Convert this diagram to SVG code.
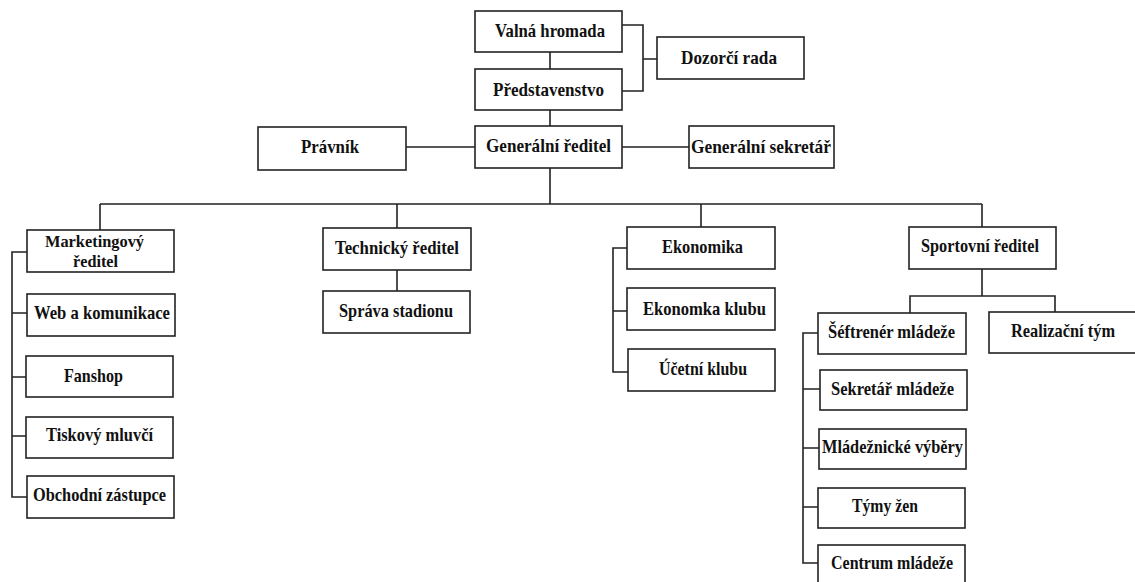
<svg xmlns="http://www.w3.org/2000/svg" width="1135" height="582" viewBox="0 0 1135 582">
<style>
.box{fill:#fff;stroke:#222;stroke-width:1.6}
.t{font-family:"Liberation Serif","Times New Roman",serif;font-weight:bold;font-size:19px;fill:#111}
.s{font-size:17px}
.c{fill:none;stroke:#222;stroke-width:1.6}
</style>
<rect width="1135" height="582" fill="#fff"/>
<g id="connectors">
<path class="c" d="M550,52V69M550,110V126M622,25H643V91H622M643,59H657"/>
<path class="c" d="M406,147H475M622,147H689"/>
<path class="c" d="M550,168V204M100,204H982M100,204V230M397,204V228M701,204V227M982,204V227"/>
<path class="c" d="M27,252H12V497H27M12,313H27M12,377H26M12,436H26"/>
<path class="c" d="M397,270V291"/>
<path class="c" d="M627,248H613V372H628M613,311H627"/>
<path class="c" d="M982,269V296M910,313V296H1055V312"/>
<path class="c" d="M818,333H803V563H818M803,389H820M803,448H819M803,507H818"/>
</g>
<g id="valna"><rect class="box" x="475" y="11" width="147" height="41"/><text class="t" x="495" y="37" textLength="110" lengthAdjust="spacingAndGlyphs">Valná hromada</text></g>
<g id="predstavenstvo"><rect class="box" x="475" y="69" width="147" height="41"/><text class="t" x="493" y="96" textLength="111" lengthAdjust="spacingAndGlyphs">Představenstvo</text></g>
<g id="dozorci"><rect class="box" x="657" y="37" width="147" height="42"/><text class="t" x="681" y="64" textLength="96" lengthAdjust="spacingAndGlyphs">Dozorčí rada</text></g>
<g id="genreditel"><rect class="box" x="475" y="126" width="147" height="42"/><text class="t" x="486" y="152" textLength="125" lengthAdjust="spacingAndGlyphs">Generální ředitel</text></g>
<g id="pravnik"><rect class="box" x="258" y="127" width="148" height="43"/><text class="t" x="301" y="153" textLength="58" lengthAdjust="spacingAndGlyphs">Právník</text></g>
<g id="gensekretar"><rect class="box" x="689" y="126" width="145" height="42"/><text class="t" x="691" y="153" textLength="140" lengthAdjust="spacingAndGlyphs">Generální sekretář</text></g>
<g id="marketing"><rect class="box" x="27" y="230" width="147" height="42"/><text class="t s" x="45" y="247" textLength="99" lengthAdjust="spacingAndGlyphs">Marketingový</text><text class="t s" x="73" y="267" textLength="45" lengthAdjust="spacingAndGlyphs">ředitel</text></g>
<g id="web"><rect class="box" x="27" y="294" width="148" height="42"/><text class="t" x="34" y="319" textLength="136" lengthAdjust="spacingAndGlyphs">Web a komunikace</text></g>
<g id="fanshop"><rect class="box" x="26" y="356" width="147" height="41"/><text class="t" x="64" y="382" textLength="59" lengthAdjust="spacingAndGlyphs">Fanshop</text></g>
<g id="tiskovy"><rect class="box" x="26" y="417" width="147" height="41"/><text class="t" x="46" y="441" textLength="107" lengthAdjust="spacingAndGlyphs">Tiskový mluvčí</text></g>
<g id="obchodni"><rect class="box" x="27" y="476" width="147" height="42"/><text class="t" x="33" y="501" textLength="133" lengthAdjust="spacingAndGlyphs">Obchodní zástupce</text></g>
<g id="technicky"><rect class="box" x="323" y="228" width="148" height="42"/><text class="t" x="335" y="254" textLength="124" lengthAdjust="spacingAndGlyphs">Technický ředitel</text></g>
<g id="sprava"><rect class="box" x="323" y="291" width="147" height="42"/><text class="t" x="339" y="317" textLength="114" lengthAdjust="spacingAndGlyphs">Správa stadionu</text></g>
<g id="ekonomika"><rect class="box" x="627" y="227" width="148" height="42"/><text class="t" x="662" y="253" textLength="81" lengthAdjust="spacingAndGlyphs">Ekonomika</text></g>
<g id="ekonomka"><rect class="box" x="627" y="288" width="148" height="42"/><text class="t" x="643" y="315" textLength="123" lengthAdjust="spacingAndGlyphs">Ekonomka klubu</text></g>
<g id="ucetni"><rect class="box" x="628" y="349" width="147" height="42"/><text class="t" x="659" y="375" textLength="88" lengthAdjust="spacingAndGlyphs">Účetní klubu</text></g>
<g id="sportovni"><rect class="box" x="909" y="227" width="147" height="42"/><text class="t" x="921" y="252" textLength="118" lengthAdjust="spacingAndGlyphs">Sportovní ředitel</text></g>
<g id="seftrener"><rect class="box" x="818" y="313" width="148" height="41"/><text class="t" x="828" y="338" textLength="127" lengthAdjust="spacingAndGlyphs">Šéftrenér mládeže</text></g>
<g id="realizacni"><rect class="box" x="989" y="312" width="150" height="41"/><text class="t" x="1011" y="337" textLength="104" lengthAdjust="spacingAndGlyphs">Realizační tým</text></g>
<g id="sekretar"><rect class="box" x="820" y="370" width="147" height="40"/><text class="t" x="831" y="395" textLength="123" lengthAdjust="spacingAndGlyphs">Sekretář mládeže</text></g>
<g id="mladeznicke"><rect class="box" x="819" y="429" width="147" height="40"/><text class="t" x="822" y="453" textLength="141" lengthAdjust="spacingAndGlyphs">Mládežnické výběry</text></g>
<g id="tymyzen"><rect class="box" x="818" y="488" width="147" height="40"/><text class="t" x="852" y="512" textLength="66" lengthAdjust="spacingAndGlyphs">Týmy žen</text></g>
<g id="centrum"><rect class="box" x="818" y="545" width="147" height="45"/><text class="t" x="831" y="569" textLength="122" lengthAdjust="spacingAndGlyphs">Centrum mládeže</text></g>
</svg>
